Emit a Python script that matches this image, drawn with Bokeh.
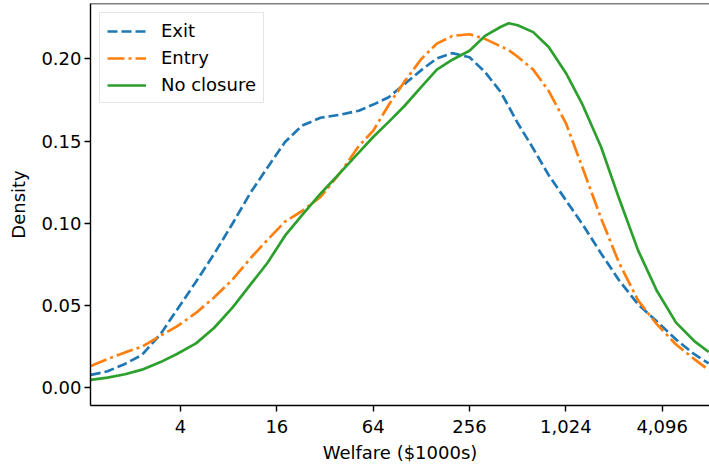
from bokeh.plotting import figure
from bokeh.models import (Range1d, FixedTicker, NumeralTickFormatter, Span,
                          Legend, LegendItem)
from bokeh.embed import file_html
from bokeh.resources import INLINE

# Welfare grid ($1000s) and density estimates
welfare = [1.1, 1.4, 1.8, 2.3, 3, 3.8, 5, 6.5, 8.5, 11, 14, 18, 23, 30, 40,
           52, 64, 80, 100, 128, 160, 200, 256, 320, 400, 450, 512, 640, 800,
           1024, 1300, 1700, 2200, 2900, 3800, 5000, 6500, 8000]

exit_density = [0.0078, 0.0100, 0.0145, 0.0200, 0.0326, 0.0473, 0.0645,
                0.0815, 0.1002, 0.1189, 0.1340, 0.1495, 0.1594, 0.1642,
                0.1661, 0.1685, 0.1722, 0.1767, 0.1845, 0.1932, 0.2003,
                0.2035, 0.2010, 0.1920, 0.1800, 0.1710, 0.1610, 0.1455,
                0.1293, 0.1141, 0.0995, 0.0817, 0.0654, 0.0506, 0.0403,
                0.0293, 0.0204, 0.0148]

entry_density = [0.0132, 0.0175, 0.0215, 0.0250, 0.0316, 0.0373, 0.0455,
                 0.0550, 0.0660, 0.0790, 0.0900, 0.1010, 0.1075, 0.1160,
                 0.1310, 0.1470, 0.1563, 0.1720, 0.1860, 0.2000, 0.2093,
                 0.2140, 0.2150, 0.2122, 0.2077, 0.2053, 0.2013, 0.1935,
                 0.1805, 0.1610, 0.1340, 0.1030, 0.0760, 0.0530, 0.0385,
                 0.0263, 0.0174, 0.0108]

noclosure_density = [0.0048, 0.0062, 0.0082, 0.0110, 0.0156, 0.0205, 0.0270,
                     0.0365, 0.0490, 0.0630, 0.0760, 0.0925, 0.1050, 0.1180,
                     0.1310, 0.1430, 0.1525, 0.1617, 0.1712, 0.1830, 0.1935,
                     0.1995, 0.2050, 0.2140, 0.2194, 0.2217, 0.2205, 0.2163,
                     0.2073, 0.1915, 0.1723, 0.1464, 0.1152, 0.0834, 0.0588,
                     0.0396, 0.0284, 0.0218]

series_labels = ["Exit", "Entry", "No closure"]
x_ticks = [4, 16, 64, 256, 1024, 4096]
y_ticks = [0.0, 0.05, 0.10, 0.15, 0.20]

FONT = "DejaVu Sans"
x_lo, x_hi = 2 ** 0.1316, 2 ** 12.982
y_lo, y_hi = -0.0108, 0.2337

p = figure(width=709, height=465, x_axis_type="log",
           output_backend="svg", toolbar_location=None,
           x_range=Range1d(x_lo, x_hi), y_range=Range1d(y_lo, y_hi),
           min_border_left=90, min_border_right=0, min_border_top=3,
           min_border_bottom=56)

p.xgrid.visible = False
p.ygrid.visible = False
p.outline_line_color = None
p.background_fill_color = "white"

r1 = p.line(welfare, exit_density, line_color="#1f77b4", line_width=2.7,
            line_dash="10 4")
r2 = p.line(welfare, entry_density, line_color="#ff7f0e", line_width=2.7,
            line_dash="17 4 3 4")
r3 = p.line(welfare, noclosure_density, line_color="#2ca02c", line_width=2.7)

p.add_layout(Span(location=y_hi, dimension="width", line_color="black",
                  line_width=1.4))

p.xaxis.ticker = FixedTicker(ticks=x_ticks, minor_ticks=[])
p.xaxis.formatter = NumeralTickFormatter(format="0,0")
p.yaxis.ticker = FixedTicker(ticks=y_ticks, minor_ticks=[])
p.yaxis.formatter = NumeralTickFormatter(format="0.00")
p.xaxis.axis_label = "Welfare ($1000s)"
p.yaxis.axis_label = "Density"

for ax in (p.xaxis[0], p.yaxis[0]):
    ax.axis_line_color = "black"
    ax.axis_line_width = 1.4
    ax.major_tick_line_color = "black"
    ax.major_tick_line_width = 1.4
    ax.major_tick_out = 6
    ax.major_tick_in = 0
    ax.minor_tick_line_color = None
    ax.major_label_text_font = FONT
    ax.major_label_text_font_size = "18px"
    ax.major_label_text_color = "black"
    ax.axis_label_text_font = FONT
    ax.axis_label_text_font_size = "18px"
    ax.axis_label_text_font_style = "normal"
    ax.axis_label_text_color = "black"
p.xaxis[0].major_label_standoff = 8
p.xaxis[0].axis_label_standoff = 6
p.yaxis[0].major_label_standoff = 3
p.yaxis[0].axis_label_standoff = 9

legend = Legend(items=[LegendItem(label=series_labels[0], renderers=[r1]),
                       LegendItem(label=series_labels[1], renderers=[r2]),
                       LegendItem(label=series_labels[2], renderers=[r3])],
                location="top_left", margin=9)
legend.label_text_font = FONT
legend.label_text_font_size = "18px"
legend.label_text_color = "black"
legend.glyph_width = 39
legend.glyph_height = 20
legend.label_height = 20
legend.spacing = 6
legend.padding = 7
legend.label_standoff = 15
legend.border_line_color = "#cccccc"
legend.border_line_width = 1.2
legend.background_fill_color = "white"
legend.background_fill_alpha = 0.8
p.add_layout(legend)

open("out.html", "w").write(file_html(p, INLINE))
